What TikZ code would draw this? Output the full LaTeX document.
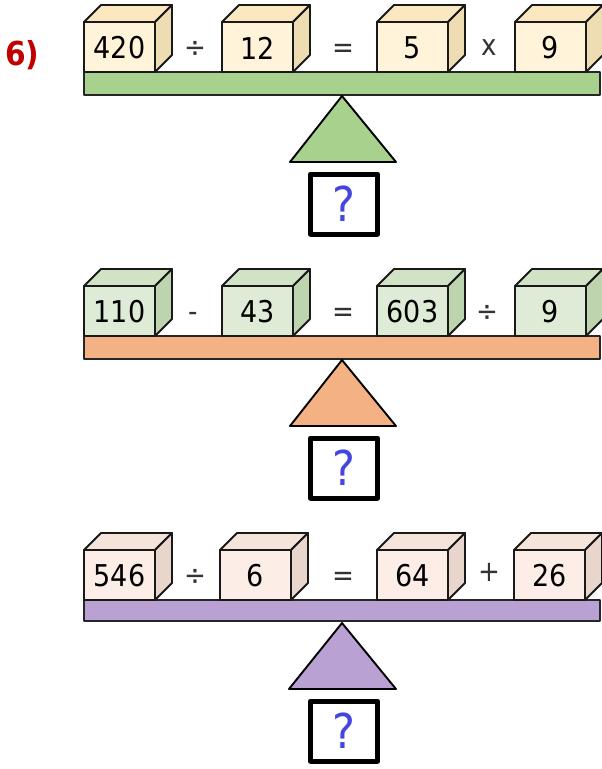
\documentclass[tikz,border=0pt]{standalone}
\usepackage{fontspec}
\setmainfont{DejaVu Sans Condensed}
\definecolor{creamF}{HTML}{FFF3D9}
\definecolor{creamT}{HTML}{FBE8C1}
\definecolor{creamS}{HTML}{EEDCB3}
\definecolor{greenF}{HTML}{DEEBD6}
\definecolor{greenT}{HTML}{D0E3C4}
\definecolor{greenS}{HTML}{BED4AF}
\definecolor{pinkF}{HTML}{FCEEE6}
\definecolor{pinkT}{HTML}{F4E4DA}
\definecolor{pinkS}{HTML}{E8D6CC}
\definecolor{beamG}{HTML}{A9D18E}
\definecolor{beamO}{HTML}{F4B183}
\definecolor{beamP}{HTML}{BAA1D3}
\definecolor{qblue}{HTML}{4545E0}
\definecolor{labred}{HTML}{C00000}
\definecolor{opgray}{HTML}{333333}
\newcommand\eqcube[3]{%
  \draw[cubeline, fill=cfront] (#2,-50) rectangle (#2+71,0);
  \draw[cubeline, fill=ctop] (#2,-50) -- (#2+17,-67) -- (#2+88,-67) -- (#2+71,-50) -- cycle;
  \draw[cubeline, fill=cside] (#2+71,-50) -- (#2+88,-67) -- (#2+88,-17) -- (#2+71,0) -- cycle;
  \node[num] (#1) at (#2+35.5,-24) {#3};
}
\begin{document}
\begin{tikzpicture}[x=1pt,y=-1pt,line join=round,
  cubeline/.style={draw=black!90, line width=1.8pt},
  num/.style={font=\fontsize{30}{30}\selectfont, text=black, inner sep=0pt},
  opsym/.style={font=\fontsize{29}{29}\selectfont, text=opgray, inner sep=0pt, anchor=base},
  beam/.style={draw=black!85, line width=1.8pt},
  fulcrum/.style={draw=black, line width=1.9pt},
  qbox/.style={draw=black, line width=5pt, minimum width=67pt, minimum height=60pt, inner sep=0pt,
    font=\fontsize{48}{48}\selectfont, text=qblue},
  lab/.style={font=\bfseries\fontsize{33}{33}\selectfont, text=labred, inner sep=0pt}]
\useasboundingbox (0,0) rectangle (602,769);
\node[lab, anchor=west] (label) at (5,55) {6)};
% panel 1
\begin{scope}[shift={(0,72)}]
  \colorlet{cfront}{creamF}\colorlet{ctop}{creamT}\colorlet{cside}{creamS}
  \draw[beam, fill=beamG] (84,0) rectangle (600,23);
  \draw[fulcrum, fill=beamG] (342,24) -- (396,90) -- (290,90) -- cycle;
  \node[qbox] (q1) at (344,132) {?};
  \eqcube{a1}{84}{420}
  \eqcube{a2}{222}{12}
  \eqcube{a3}{377}{5}
  \eqcube{a4}{515}{9}
  \node[opsym] (o11) at (195,-15) {÷};
  \node[opsym] (o12) at (343,-15) {=};
  \node[opsym] (o13) at (489,-17) {x};
\end{scope}
% panel 2
\begin{scope}[shift={(0,336)}]
  \colorlet{cfront}{greenF}\colorlet{ctop}{greenT}\colorlet{cside}{greenS}
  \draw[beam, fill=beamO] (84,0) rectangle (600,23);
  \draw[fulcrum, fill=beamO] (342,24) -- (396,90) -- (290,90) -- cycle;
  \node[qbox] (q2) at (344,132) {?};
  \eqcube{b1}{84}{110}
  \eqcube{b2}{222}{43}
  \eqcube{b3}{377}{603}
  \eqcube{b4}{515}{9}
  \node[opsym] (o21) at (193,-15) {-};
  \node[opsym] (o22) at (343,-15) {=};
  \node[opsym] (o23) at (487,-15) {÷};
\end{scope}
% panel 3
\begin{scope}[shift={(0,600)}]
  \colorlet{cfront}{pinkF}\colorlet{ctop}{pinkT}\colorlet{cside}{pinkS}
  \draw[beam, fill=beamP] (84,0) rectangle (600,21);
  \draw[fulcrum, fill=beamP] (342,23) -- (396,89) -- (289,89) -- cycle;
  \node[qbox] (q3) at (344,131) {?};
  \eqcube{c1}{84}{546}
  \eqcube{c2}{220}{6}
  \eqcube{c3}{377}{64}
  \eqcube{c4}{514}{26}
  \node[opsym] (o31) at (195,-15) {÷};
  \node[opsym] (o32) at (343,-15) {=};
  \node[opsym] (o33) at (489,-19) {+};
\end{scope}
\end{tikzpicture}
\end{document}
